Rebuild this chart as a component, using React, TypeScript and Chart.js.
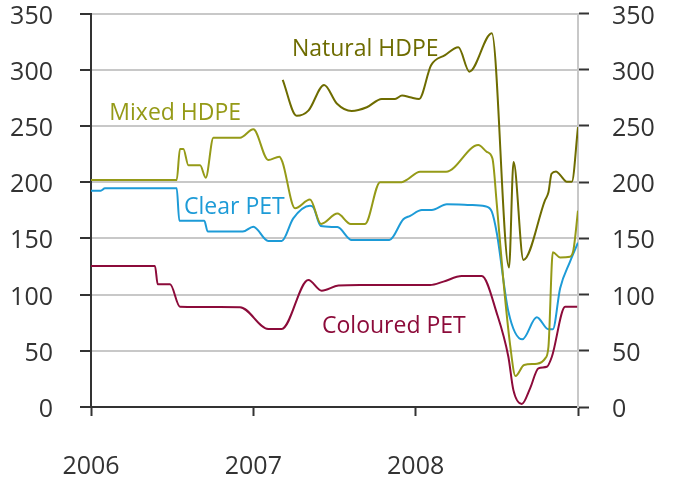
import { useEffect, useRef } from 'react';
import { Chart, registerables } from 'chart.js';

Chart.register(...registerables);

// x axis: years
const yearTicks = [2006, 2007, 2008, 2009];
const yearLabels = ['2006', '2007', '2008', ''];
const valueTicks = [0, 50, 100, 150, 200, 250, 300, 350];

const seriesNames = ['Natural HDPE', 'Mixed HDPE', 'Clear PET', 'Coloured PET'];
const seriesColors = ['#6e6c00', '#959a17', '#1d9bd7', '#8c0b3a'];

const naturalHdpeX = [2007.181, 2007.267, 2007.339, 2007.436, 2007.514, 2007.606, 2007.699, 2007.791, 2007.873, 2007.916, 2007.966, 2008.021, 2008.095, 2008.181, 2008.263, 2008.331, 2008.469, 2008.575, 2008.603, 2008.664, 2008.797, 2008.818, 2008.837, 2008.865, 2008.890, 2008.931, 2008.962, 2009.0];
const naturalHdpeY = [291, 259, 263.6, 286.4, 270, 263.3, 266.6, 274, 274, 277, 275.5, 274, 304, 313, 320, 298.3, 332.4, 124, 218, 130.8, 184, 191, 207.5, 209.5, 206.4, 200.4, 200.4, 249];

const mixedHdpeX = [2006.0, 2006.528, 2006.548, 2006.569, 2006.600, 2006.672, 2006.707, 2006.754, 2006.918, 2007.000, 2007.092, 2007.160, 2007.179, 2007.257, 2007.349, 2007.417, 2007.518, 2007.600, 2007.688, 2007.781, 2007.914, 2007.945, 2008.027, 2008.187, 2008.386, 2008.438, 2008.473, 2008.500, 2008.540, 2008.582, 2008.615, 2008.668, 2008.748, 2008.797, 2008.818, 2008.845, 2008.890, 2008.951, 2008.972, 2009.0];
const mixedHdpeY = [202, 202, 229.5, 229.5, 215, 215, 204, 239.5, 239.5, 247, 219.7, 222.6, 218, 176.7, 184.5, 162.8, 172, 162.8, 162.8, 200, 200, 202, 209.3, 209.3, 233, 227, 221, 180, 113, 55, 27.6, 37.4, 38.5, 43, 53.6, 137.6, 133, 133.7, 139.7, 174.6];

const clearPetX = [2006.0, 2006.060, 2006.086, 2006.528, 2006.544, 2006.698, 2006.719, 2006.935, 2007.000, 2007.092, 2007.175, 2007.246, 2007.349, 2007.370, 2007.415, 2007.518, 2007.606, 2007.838, 2007.924, 2007.966, 2008.038, 2008.099, 2008.192, 2008.335, 2008.428, 2008.469, 2008.500, 2008.571, 2008.657, 2008.746, 2008.818, 2008.845, 2008.890, 2008.951, 2009.0];
const clearPetY = [192.4, 192.4, 194.5, 194.5, 165.7, 165.7, 156, 156, 160.4, 147.7, 147.7, 167.8, 179, 177.6, 161, 160, 148.5, 148.5, 167, 170, 175.2, 175.2, 180.3, 179.7, 178.5, 173.7, 154.5, 85, 60.2, 79.8, 69.1, 69.1, 105.6, 129.3, 146.2];

const colouredPetX = [2006.0, 2006.394, 2006.411, 2006.487, 2006.548, 2006.918, 2007.092, 2007.175, 2007.339, 2007.421, 2007.524, 2007.657, 2008.089, 2008.171, 2008.284, 2008.407, 2008.500, 2008.571, 2008.602, 2008.654, 2008.705, 2008.756, 2008.808, 2008.839, 2008.921, 2008.995];
const colouredPetY = [125.4, 125.4, 109.1, 109.1, 89.2, 88.8, 69.4, 69.4, 113, 103.5, 108, 108.5, 108.5, 111.5, 116.5, 116.5, 83.3, 44.7, 15, 2.7, 16.6, 34.4, 35.8, 44.7, 89.2, 89.2];

// label anchors in data coordinates (year, value at text baseline)
const labelAnchorX = [2007.238, 2006.113, 2006.573, 2007.423];
const labelAnchorY = [312.5, 255.2, 171.7, 65.5];

const toPoints = (xs: number[], ys: number[]) => xs.map((x, i) => ({ x, y: ys[i] }));

const FONT_FAMILY = "'Open Sans', 'Noto Sans', sans-serif";

const labelPlugin = {
  id: 'seriesLabels',
  afterDatasetsDraw(chart: any) {
    const { ctx, scales } = chart;
    ctx.save();
    ctx.font = `23px ${FONT_FAMILY}`;
    ctx.textAlign = 'left';
    ctx.textBaseline = 'alphabetic';
    seriesNames.forEach((name, i) => {
      ctx.fillStyle = seriesColors[i];
      ctx.fillText(name, scales.x.getPixelForValue(labelAnchorX[i]), scales.y.getPixelForValue(labelAnchorY[i]));
    });
    ctx.restore();
  },
};

const noPad = (s: any) => {
  s.paddingTop = 0;
  s.paddingBottom = 0;
  s.paddingLeft = 0;
  s.paddingRight = 0;
};

export default function App() {
  const ref = useRef<HTMLCanvasElement>(null);
  useEffect(() => {
    document.body.style.margin = '0';
    const canvas = ref.current!;
    const tickFont = { family: FONT_FAMILY, size: 25, lineHeight: 1 };
    const dataSeries = [
      toPoints(naturalHdpeX, naturalHdpeY),
      toPoints(mixedHdpeX, mixedHdpeY),
      toPoints(clearPetX, clearPetY),
      toPoints(colouredPetX, colouredPetY),
    ];
    const chart = new Chart(canvas, {
      type: 'line',
      data: {
        datasets: dataSeries.map((d, i) => ({
          label: seriesNames[i],
          data: d,
          borderColor: seriesColors[i],
          backgroundColor: seriesColors[i],
          borderWidth: 2,
          pointRadius: 0,
          cubicInterpolationMode: 'monotone' as const,
          fill: false,
          yAxisID: 'y',
        })),
      },
      options: {
        animation: false,
        responsive: false,
        maintainAspectRatio: false,
        parsing: false as any,
        layout: { padding: { top: 13.5, left: 0, right: 0, bottom: 0 } },
        plugins: { legend: { display: false }, tooltip: { enabled: false } },
        scales: {
          x: {
            type: 'linear',
            min: 2006,
            max: 2009,
            afterBuildTicks: (s: any) => {
              s.ticks = yearTicks.map((v) => ({ value: v }));
            },
            afterFit: (s: any) => {
              s.height = 74;
              noPad(s);
            },
            ticks: {
              autoSkip: false,
              maxRotation: 0,
              padding: 38,
              font: tickFont,
              color: '#333333',
              callback: (v: any) => yearLabels[yearTicks.indexOf(Number(v))] ?? '',
            },
            grid: { drawOnChartArea: false, tickLength: 9, tickColor: '#333333', tickWidth: 2 },
            border: { color: '#333333', width: 2 },
          },
          y: {
            position: 'left',
            min: 0,
            max: 350,
            afterBuildTicks: (s: any) => {
              s.ticks = valueTicks.map((v) => ({ value: v }));
            },
            afterFit: (s: any) => {
              s.width = 91;
              noPad(s);
            },
            ticks: { padding: 27, labelOffset: 3, font: tickFont, color: '#333333' },
            grid: { color: '#c8c8c8', lineWidth: 2, tickLength: 11, tickColor: '#333333', tickWidth: 2 },
            border: { color: '#333333', width: 2 },
          },
          y2: {
            position: 'right',
            min: 0,
            max: 350,
            afterBuildTicks: (s: any) => {
              s.ticks = valueTicks.map((v) => ({ value: v }));
            },
            afterFit: (s: any) => {
              s.width = 95;
              noPad(s);
            },
            ticks: { padding: 23, labelOffset: 3, font: tickFont, color: '#333333' },
            grid: { drawOnChartArea: false, tickLength: 11, tickColor: '#333333', tickWidth: 2 },
            border: { color: '#c8c8c8', width: 2 },
          },
        },
      } as any,
      plugins: [labelPlugin],
    });
    return () => chart.destroy();
  }, []);
  return <canvas ref={ref} width={673} height={481} style={{ display: 'block' }} />;
}
